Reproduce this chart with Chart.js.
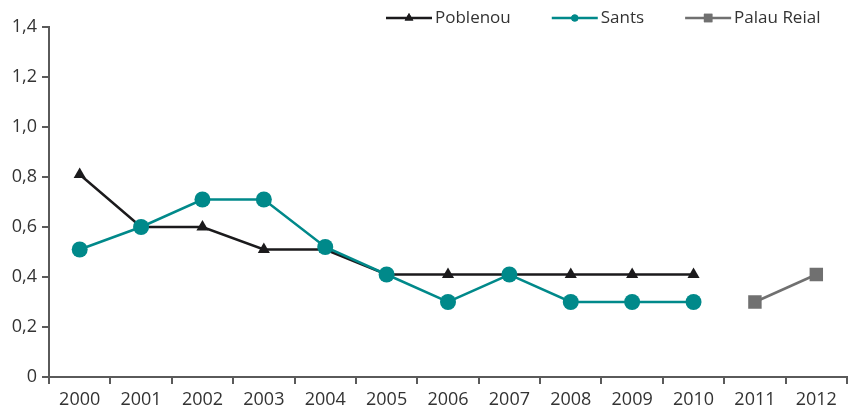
<!DOCTYPE html>
<html>
<head>
<meta charset="utf-8">
<script src="https://cdn.jsdelivr.net/npm/chart.js@4"></script>
<style>
  html, body { margin: 0; padding: 0; background: #fff; }
  #wrap { width: 849px; height: 405px; }
</style>
</head>
<body>
<div id="wrap"><canvas id="chart" width="849" height="405"></canvas></div>
<script>
"use strict";

// Years on the x axis and one value array per district.
const YEARS = ["2000", "2001", "2002", "2003", "2004", "2005", "2006",
  "2007", "2008", "2009", "2010", "2011", "2012"];
const POBLENOU = [0.81, 0.60, 0.60, 0.51, 0.51, 0.41, 0.41, 0.41, 0.41, 0.41, 0.41, null, null];
const SANTS = [0.51, 0.60, 0.71, 0.71, 0.52, 0.41, 0.30, 0.41, 0.30, 0.30, 0.30, null, null];
const PALAU_REIAL = [null, null, null, null, null, null, null, null, null, null, null, 0.30, 0.41];
const Y_TICKS = [0, 0.2, 0.4, 0.6, 0.8, 1.0, 1.2, 1.4];

const FONT = "'Open Sans', 'Noto Sans', sans-serif";
const AXIS = "#5a5a5a";
const TEXT = "#333333";

const SERIES = [
  { label: "Sants", data: SANTS, color: "#00898a", style: "circle", r: 8, lr: 3.5 },
  { label: "Poblenou", data: POBLENOU, color: "#1b1a1c", style: "triangle", r: 7, lr: 5 },
  { label: "Palau Reial", data: PALAU_REIAL, color: "#707070", style: "rect", r: 9.5, lr: 6 },
];
const LEGEND_ORDER = ["Poblenou", "Sants", "Palau Reial"];

// Legend drawn by hand so each entry shows a line with its marker in the middle.
const lineLegend = {
  id: "lineLegend",
  afterDraw(chart) {
    const ctx = chart.ctx;
    let x = 386;
    const y = 18;
    ctx.save();
    ctx.font = "17px " + FONT;
    ctx.textBaseline = "middle";
    LEGEND_ORDER.forEach((name) => {
      const s = SERIES.find((d) => d.label === name);
      ctx.strokeStyle = s.color;
      ctx.lineWidth = 2.5;
      ctx.beginPath();
      ctx.moveTo(x, y);
      ctx.lineTo(x + 46, y);
      ctx.stroke();
      ctx.fillStyle = s.color;
      Chart.helpers.drawPoint(ctx, { pointStyle: s.style, radius: s.lr, rotation: 0, borderWidth: 0 }, x + 23, y);
      ctx.fill();
      ctx.fillStyle = TEXT;
      ctx.fillText(name, x + 49, y);
      x += 49 + ctx.measureText(name).width + 41;
    });
    ctx.restore();
  },
};

new Chart(document.getElementById("chart"), {
  type: "line",
  data: {
    labels: YEARS,
    datasets: SERIES.map((s) => ({
      label: s.label,
      data: s.data,
      borderColor: s.color,
      backgroundColor: s.color,
      borderWidth: 2.5,
      pointStyle: s.style,
      pointRadius: s.r,
      pointHoverRadius: s.r,
      pointBorderWidth: 0,
      tension: 0,
      spanGaps: false,
    })),
  },
  options: {
    responsive: false,
    animation: false,
    layout: { autoPadding: false, padding: { top: 27, right: 2, left: 0, bottom: 0 } },
    plugins: { legend: { display: false }, tooltip: { enabled: false } },
    scales: {
      x: {
        offset: true,
        grid: { display: true, offset: true, drawOnChartArea: false, drawTicks: true,
          tickLength: 7, color: AXIS, lineWidth: 2 },
        border: { display: true, color: AXIS, width: 2 },
        ticks: { color: TEXT, font: { family: FONT, size: 18 }, padding: 5, maxRotation: 0 },
        afterFit: (scale) => {
          scale.height = 28;
          scale.paddingLeft = 0;
          scale.paddingRight = 0;
        },
      },
      y: {
        min: 0,
        max: 1.4,
        afterBuildTicks: (scale) => { scale.ticks = Y_TICKS.map((v) => ({ value: v })); },
        grid: { display: true, drawOnChartArea: false, drawTicks: true, tickLength: 7,
          color: AXIS, lineWidth: 2 },
        border: { display: true, color: AXIS, width: 2 },
        ticks: {
          color: TEXT,
          font: { family: FONT, size: 18 },
          padding: 5,
          callback: (v) => (v === 0 ? "0" : v.toFixed(1).replace(".", ",")),
        },
        afterFit: (scale) => { scale.width = 49; },
      },
    },
  },
  plugins: [lineLegend],
});
</script>
</body>
</html>
